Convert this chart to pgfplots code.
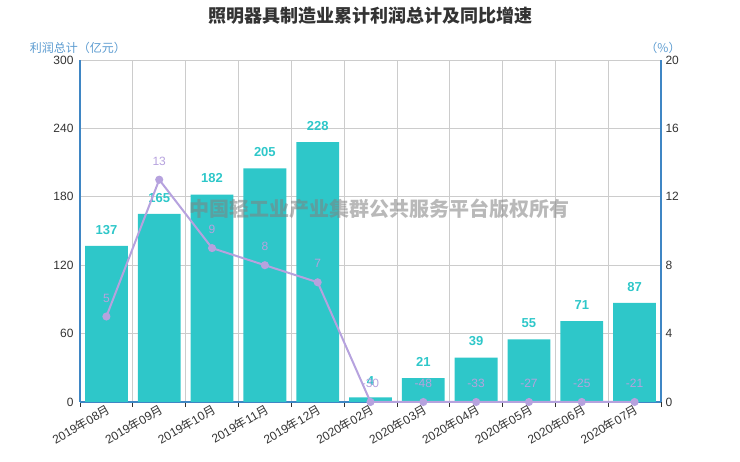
\documentclass[border=0pt]{standalone}
\usepackage{pgfplots}
\pgfplotsset{compat=1.18}
\usepackage{fontspec}
\setmainfont{Liberation Sans}
\newfontfamily\cjk{Noto Sans CJK SC}
\definecolor{barc}{HTML}{2EC7C9}
\definecolor{linec}{HTML}{B6A2DE}
\definecolor{axc}{HTML}{3F86C4}
\definecolor{namec}{HTML}{5B9BD0}
\definecolor{gridc}{HTML}{CCCCCC}
\definecolor{txt}{HTML}{333333}
\newcommand\ym[2]{#1{\cjk 年}#2{\cjk 月}}
\begin{document}
\begin{tikzpicture}[x=1pt,y=1pt]
\path[use as bounding box] (0,0) rectangle (740,462);
\begin{axis}[
  at={(80pt,60pt)}, anchor=south west, scale only axis,
  width=581pt, height=342pt,
  xmin=-0.5, xmax=10.5, ymin=0, ymax=300,
  ytick={0,60,...,300},
  ymajorgrids, major grid style={gridc, line width=0.8pt},
  xtick={0,...,10},
  xticklabels={\ym{2019}{08},\ym{2019}{09},\ym{2019}{10},\ym{2019}{11},\ym{2019}{12},\ym{2020}{02},\ym{2020}{03},\ym{2020}{04},\ym{2020}{05},\ym{2020}{06},\ym{2020}{07}},
  minor xtick={-0.5,0.5,...,10.5},
  xminorgrids, minor grid style={gridc, line width=0.8pt},
  axis y line*=left, axis x line*=bottom,
  axis line style={axc, line width=2pt},
  major tick length=0pt, minor tick length=5pt, tick align=outside,
  minor tick style={draw=txt, line width=0.8pt},
  /pgf/number format/assume math mode=true,
  yticklabel style={font=\fontsize{12}{14}\selectfont, text=txt, xshift=-3pt},
  xticklabel style={font=\fontsize{12}{14}\selectfont, text=txt, rotate=30, anchor=north east, inner sep=1pt},
  clip=false,
]
\addplot[ybar, bar width=0.81, fill=barc, draw=none,
  nodes near coords,
  nodes near coords style={font=\bfseries\fontsize{13}{15}\selectfont, text=barc, anchor=south, yshift=8pt}]
  coordinates {(0,137) (1,165) (2,182) (3,205) (4,228) (5,4) (6,21) (7,39) (8,55) (9,71) (10,87)};
\end{axis}
\begin{axis}[
  at={(80pt,60pt)}, anchor=south west, scale only axis,
  width=581pt, height=342pt,
  xmin=-0.5, xmax=10.5, ymin=0, ymax=20,
  ytick={0,4,...,20},
  axis y line*=right, axis x line=none,
  axis line style={axc, line width=2pt},
  major tick length=0pt,
  /pgf/number format/assume math mode=true,
  yticklabel style={font=\fontsize{12}{14}\selectfont, text=txt, xshift=1pt},
  clip=false,
]
\addplot[linec, line width=2pt, mark=*, mark size=3pt, mark options={fill=linec, draw=linec},
  point meta=explicit symbolic, nodes near coords,
  nodes near coords style={font=\fontsize{12}{14}\selectfont, text=linec, anchor=south, yshift=10pt}]
  coordinates {(0,5) [5] (1,13) [13] (2,9) [9] (3,8) [8] (4,7) [7] (5,0) [-30] (6,0) [-48] (7,0) [-33] (8,0) [-27] (9,0) [-25] (10,0) [-21]};
\end{axis}
\node[font=\cjk\bfseries\fontsize{20}{24}\selectfont, text=gray, opacity=0.55] at (379.5,253) {中国轻工业产业集群公共服务平台版权所有};
\node[font=\cjk\bfseries\fontsize{18}{21}\selectfont, text=txt] at (370,446) {照明器具制造业累计利润总计及同比增速};
\node[font=\cjk\fontsize{12}{14}\selectfont, text=namec] at (78,414) {利润总计（亿元）};
\node[font=\cjk\fontsize{12}{14}\selectfont, text=namec] at (663,414) {（\%）};
\end{tikzpicture}
\end{document}
